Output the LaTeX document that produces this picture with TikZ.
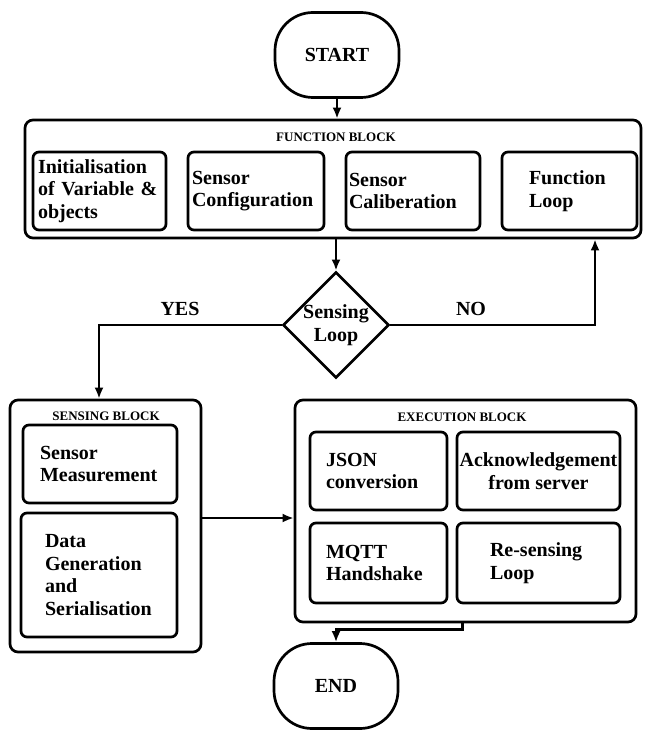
\documentclass[tikz,border=0pt]{standalone}
\usepackage{fontspec}
\setmainfont{Liberation Serif}
\usepackage{tikz}
\usetikzlibrary{arrows.meta, shapes.geometric, calc}
\tikzset{
  block/.style={draw, line width=2.7pt, rounded corners=8pt, inner sep=0pt},
  inbox/.style={draw, line width=2.7pt, rounded corners=6pt, align=left, inner sep=0pt,
    font=\bfseries\fontsize{20}{22.5}\selectfont},
  term/.style={draw, line width=2.7pt, rounded corners=38pt, minimum width=124, minimum height=85,
    font=\bfseries\fontsize{20}{22.5}\selectfont},
  decision/.style={diamond, draw, line width=2.7pt, inner sep=0pt, minimum width=105, minimum height=106,
    align=center, font=\bfseries\fontsize{20}{22.5}\selectfont},
  title/.style={font=\bfseries\fontsize{13}{15}\selectfont, inner sep=0pt},
  lbl/.style={font=\bfseries\fontsize{20}{22.5}\selectfont, inner sep=0pt},
  arrow/.style={line width=2.4pt, -{Latex[length=11pt,width=9pt]}}
}

\begin{document}
\begin{tikzpicture}[x=1pt, y=1pt]
  \useasboundingbox (0,0) rectangle (649,-730);
  \node[term] (start) at (337,-55) {START};
  % function block
  \node[block, minimum width=616, minimum height=118] (fblock) at (333,-179) {};
  \node[title] (ftitle) at (336,-137) {FUNCTION BLOCK};
  \node[inbox, minimum width=133, minimum height=78, text width=123, inner xsep=5] (init) at (99.5,-191) {Initialisation\\of Variable \&\\objects};
  \node[inbox, minimum width=136, minimum height=78, text width=128, inner xsep=4] (conf) at (256,-191) {Sensor\\Configuration};
  \node[inbox, minimum width=134, minimum height=78, text width=128, inner xsep=3] (calib) at (413,-191) {Sensor\\Caliberation};
  \node[inbox, minimum width=135, minimum height=78, text width=81, inner xsep=27] (floop) at (569.5,-191) {Function\\Loop};
  \node[decision] (sense) at (336,-325) {Sensing\\Loop};
  \node[lbl] (yes) at (180,-309) {YES};
  \node[lbl] (no) at (471,-309) {NO};
  % sensing block
  \node[block, minimum width=191, minimum height=252] (sblock) at (105.5,-526) {};
  \node[title] (stitle) at (106,-416) {SENSING BLOCK};
  \node[inbox, minimum width=154, minimum height=78, text width=120, inner xsep=17] (meas) at (100,-464) {Sensor\\Measurement};
  \node[inbox, minimum width=156, minimum height=124, text width=108, inner xsep=24] (data) at (99,-575) {Data\\Generation\\and\\Serialisation};
  % execution block
  \node[block, minimum width=341, minimum height=222] (eblock) at (465.5,-511) {};
  \node[title] (etitle) at (462,-417) {EXECUTION BLOCK};
  \node[inbox, minimum width=137, minimum height=78, text width=105, inner xsep=16] (json) at (378.5,-471) {JSON\\conversion};
  \node[inbox, minimum width=163, minimum height=78, align=center] (ack) at (538.5,-471) {Acknowledgement\\from server};
  \node[inbox, minimum width=137, minimum height=80, text width=105, inner xsep=16] (mqtt) at (378.5,-563) {MQTT\\Handshake};
  \node[inbox, minimum width=163, minimum height=80, text width=97, inner xsep=33] (resense) at (538.5,-563) {Re-sensing\\Loop};
  \node[term] (endn) at (336,-686) {END};
  % connectors
  \draw[arrow] (start.south) -- (start.south |- fblock.north);
  \draw[arrow] (sense.north |- fblock.south) -- (sense.north);
  \draw[arrow] (sense.west) -| ([xshift=-6.5pt]sblock.north);
  \draw[arrow] (sense.east) -| ([xshift=262pt]fblock.south);
  \draw[arrow] ([yshift=8pt]sblock.east) -- ([yshift=8pt]sblock.east -| eblock.west);
  \draw[arrow] ([xshift=-3pt]eblock.south) -- ++(0,-6) -| (endn.north);
\end{tikzpicture}
\end{document}
